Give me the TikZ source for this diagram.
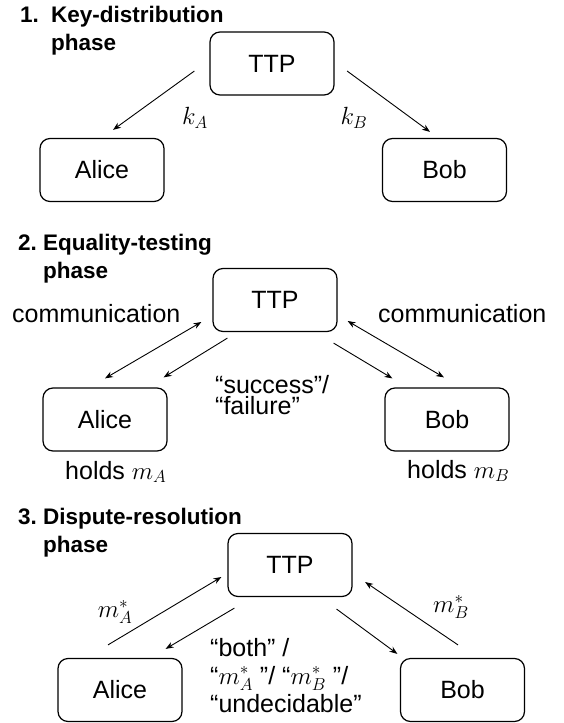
\documentclass[tikz,border=0pt]{standalone}
\usepackage{fontspec}
\setmainfont{Liberation Sans}
\usetikzlibrary{arrows.meta}

\begin{document}
\begin{tikzpicture}[x = 1pt, y = -1pt,
	party/.style = {draw, rounded corners = 10pt, line width = 1.2pt, minimum width = 124pt, minimum height = 63pt, font = \fontsize{25}{28}\selectfont},
	tag/.style = {inner sep = 0pt, font = \fontsize{25}{28}\selectfont},
	heading/.style = {inner sep = 0pt, align = left, font = \fontsize{22.5}{28}\selectfont\bfseries},
	oneway/.style = {line width = 0.9pt, -{Stealth[length = 8pt, width = 6pt]}},
	twoway/.style = {line width = 0.9pt, {Stealth[length = 8pt, width = 6pt]}-{Stealth[length = 8pt, width = 6pt]}}]
	\useasboundingbox (0, 0) rectangle (563, 723);

	\node (title1) at (20, 50) [heading, anchor = base west] {\makebox[31pt][l]{1.}Key-distribution\\\hspace*{31pt}phase};
	\node (ttp1) at (272, 63.5) [party] {TTP};
	\node (alice1) at (102, 170) [party] {Alice};
	\node (bob1) at (444.5, 170) [party] {Bob};
	\draw [oneway] ([shift = {(-15, 7.5)}] ttp1.west) -- ([shift = {(11, -8)}] alice1.north);
	\draw [oneway] ([shift = {(12.5, 7.5)}] ttp1.east) -- ([shift = {(-14.5, -6)}] bob1.north);
	\node (ka) at (195, 118) [tag] {\(k_A\)};
	\node (kb) at (354, 118) [tag] {\(k_B\)};

	\node (title2) at (18, 278) [heading, anchor = base west] {\makebox[25pt][l]{2.}Equality-testing\\\hspace*{25pt}phase};
	\node (ttp2) at (275, 300) [party] {TTP};
	\node (alice2) at (105, 419.5) [party] {Alice};
	\node (bob2) at (447, 419.5) [party] {Bob};
	\node (comma) at (12, 322) [tag, anchor = base west] {communication};
	\node (commb) at (378, 322) [tag, anchor = base west] {communication};
	\draw [twoway] ([shift = {(0, -9)}] alice2.north) -- ([shift = {(-11, 22)}] ttp2.west);
	\draw [oneway] ([shift = {(15, 6)}] ttp2.south west) -- ([shift = {(-4, -10)}] alice2.north east);
	\draw [oneway] ([shift = {(-4, 11)}] ttp2.south east) -- ([shift = {(8, -9)}] bob2.north west);
	\draw [twoway] ([shift = {(10, 21)}] ttp2.east) -- ([shift = {(-3, -10)}] bob2.north);
	\node (verdict) at (215, 414) [tag, anchor = base west, align = left, font = \fontsize{25}{21}\selectfont] {“success”/\\“failure”};
	\node (holda) at (65, 479) [tag, anchor = base west] {holds \(m_A\)};
	\node (holdb) at (407, 478) [tag, anchor = base west] {holds \(m_B\)};

	\node (title3) at (18, 552) [heading, anchor = base west] {\makebox[25pt][l]{3.}Dispute-resolution\\\hspace*{25pt}phase};
	\node (ttp3) at (290, 565) [party] {TTP};
	\node (alice3) at (120, 690) [party] {Alice};
	\node (bob3) at (462.5, 690) [party] {Bob};
	\draw [oneway] ([shift = {(-12, -13)}] alice3.north) -- ([shift = {(-6, 12)}] ttp3.west);
	\draw [oneway] ([shift = {(7, 11)}] ttp3.south west) -- ([shift = {(-17, -9)}] alice3.north east);
	\draw [oneway] ([shift = {(-16, 12)}] ttp3.south east) -- ([shift = {(-2.5, -4)}] bob3.north west);
	\draw [oneway] ([shift = {(-4.5, -13)}] bob3.north) -- ([shift = {(12.5, 17)}] ttp3.east);
	\node (msa) at (115, 612) [tag] {\(m_A^*\)};
	\node (msb) at (451, 607) [tag] {\(m_B^*\)};
	\node (outcome) at (210, 712) [tag, anchor = base west, align = left, font = \fontsize{25}{28}\selectfont] {“both” /\\“\(m_A^*\) ”/ “\(m_B^*\) ”/\\“undecidable”};
\end{tikzpicture}
\end{document}
